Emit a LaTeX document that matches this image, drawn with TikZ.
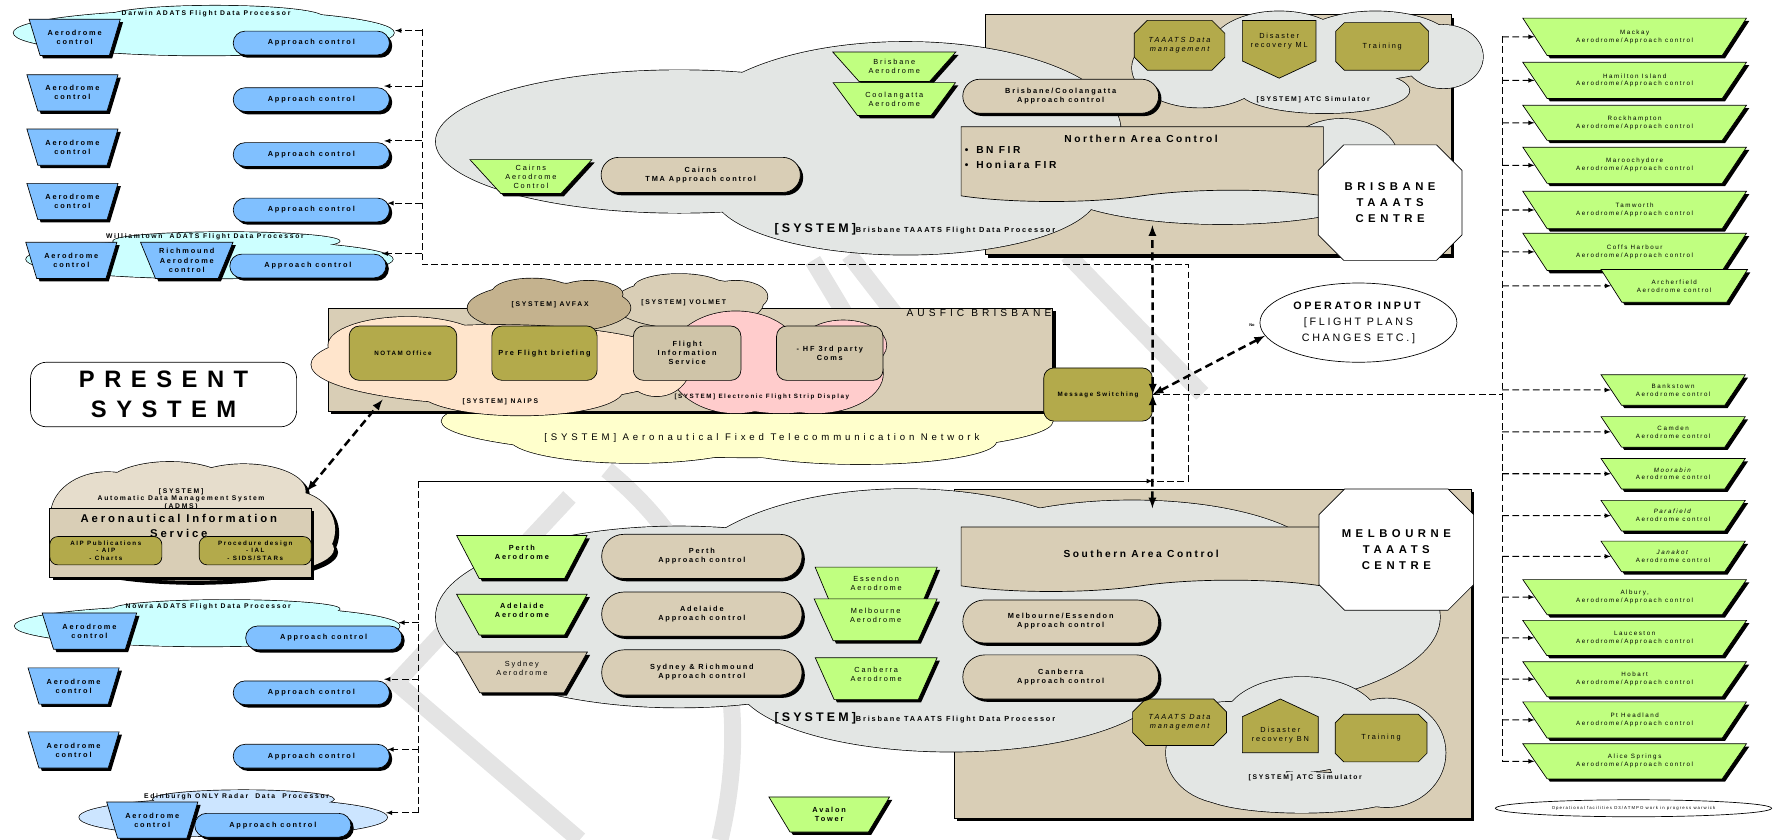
\documentclass[tikz,border=0pt]{standalone}
\usepackage{fontspec}
\setmainfont{Liberation Sans}
\newfontfamily\spc[LetterSpace=25]{Liberation Sans}
\newfontfamily\spcw[LetterSpace=40]{Liberation Sans}
\usetikzlibrary{shapes.geometric,shapes.misc,shapes.symbols,shadows}

\definecolor{adblue}{HTML}{80C0FF}
\definecolor{fdpcyan}{HTML}{CCFFFF}
\definecolor{radarblue}{HTML}{CCE5FF}
\definecolor{lime}{HTML}{C0FF80}
\definecolor{boxtan}{HTML}{D9CEB6}
\definecolor{dropolive}{HTML}{B3AA4B}
\definecolor{fisgrey}{HTML}{CFC4A8}
\definecolor{fdpgrey}{HTML}{E3E6E4}
\definecolor{avfax}{HTML}{C4B28E}
\definecolor{naips}{HTML}{FFE5CC}
\definecolor{efsd}{HTML}{FFCCCC}
\definecolor{aftn}{HTML}{FFFFCC}
\definecolor{adms}{HTML}{E6DDCC}
\definecolor{wmark}{HTML}{E4E4E4}

\newcommand\lbl{\spc\bfseries\fontsize{6.5}{8}\selectfont}
\newcommand\lblr{\spc\fontsize{6.5}{8}\selectfont}
\newcommand\ttl{\spc\bfseries\fontsize{6}{7}\selectfont}
\newcommand\sml{\spc\fontsize{5.5}{7}\selectfont}
\newcommand\hdr{\spc\bfseries\fontsize{9}{13}\selectfont}
\newcommand\ctr{\spcw\bfseries\fontsize{10}{14.5}\selectfont}

% cloud = union of ellipses, outline only on the outside
\newcommand\puff[2]{%
  \foreach \cx/\cy/\rx/\ry in {#2}
    \draw[line width=1.2pt,fill=#1] (\cx,\cy) ellipse [x radius=\rx, y radius=\ry];
  \foreach \cx/\cy/\rx/\ry in {#2}
    \fill[#1] (\cx,\cy) ellipse [x radius=\rx, y radius=\ry];
}

\begin{document}
\begin{tikzpicture}[x=1pt,y=-1pt,line width=0.6pt,
    every node/.style={inner sep=1pt, align=center},
    shad/.style={drop shadow={shadow xshift=2.5pt,shadow yshift=-2.5pt,fill=black,opacity=1}},
    aero/.style={draw, shad, trapezium, shape border rotate=180, trapezium stretches=true, trapezium angle=#1, font=\lbl},
    aero/.default=62,
    blueaero/.style={aero, fill=adblue, minimum width=81pt, minimum height=32pt},
    rgreen/.style={aero=44, fill=lime, font=\sml},
    appr/.style={draw, shad, rounded rectangle, font=\lbl},
    blueappr/.style={appr, fill=adblue, minimum width=140pt, minimum height=21pt},
    octo/.style={draw, chamfered rectangle, chamfered rectangle xsep=#1, font=\lblr},
    rbox/.style={draw, rounded corners=9pt, font=\lbl},
    bigbox/.style={draw, shad, fill=boxtan},
    bus/.style={line width=0.9pt, dash pattern=on 6pt off 3pt},
    conn/.style={bus, -latex},
    hubline/.style={line width=2.2pt, dash pattern=on 7pt off 4pt, latex-latex},
    wm/.style={line width=15pt, wmark}]

\useasboundingbox (0,0) rectangle (1568,742);

%%% watermark
\draw[wm] (503,439) -- (350,603) -- (512,742);
\draw[wm] (536,415) .. controls (640,500) and (665,620) .. (636,742);
\draw[wm] (718,230) -- (817,395);
\draw[wm] (750,225) -- (845,348);
\draw[wm] (943,225) -- (1062,348);

%%% left top: ADATS processors
\puff{fdpcyan}{180/29/168/20, 190/15/95/10} % Darwin
\puff{fdpcyan}{185/229/162/17, 200/213/100/8} % Williamtown
\node[font=\ttl] (darwinT) at (182,12) {Darwin ADATS Flight Data Processor};
\node[font=\ttl] (wlmT) at (181,209) {Williamtown\ \ ADATS Flight Data Processor};

\node[blueaero] (dAero) at (66,33) {Aerodrome\\control};
\node[blueaero] (aero2) at (64,82) {Aerodrome\\control};
\node[blueaero] (aero3) at (64,130) {Aerodrome\\control};
\node[blueaero] (aero4) at (64,178) {Aerodrome\\control};
\node[blueaero] (wAero) at (63,230) {Aerodrome\\control};
\node[blueaero, minimum width=82pt] (richAero) at (165,230) {Richmound\\Aerodrome\\control};
\node[blueappr] (dAppr) at (275,38) {Approach control};
\node[blueappr] (appr2) at (275,88) {Approach control};
\node[blueappr] (appr3) at (275,136.5) {Approach control};
\node[blueappr] (appr4) at (275,185.5) {Approach control};
\node[blueappr] (wAppr) at (272,235) {Approach control};

%%% left bottom
\puff{fdpcyan}{183/553/170/18, 200/538/100/8} % Nowra
\puff{radarblue}{206/722/136/17, 215/706/80/8} % Edinburgh
\node[font=\ttl] (nowraT) at (184,536) {Nowra ADATS Flight Data Processor};
\node[font=\ttl] (edinT) at (209,704) {Edinburgh ONLY Radar\ \ Data\ \ Processor};

\node[blueaero, minimum width=84pt] (nAero) at (79,557.5) {Aerodrome\\control};
\node[blueaero] (aero6) at (65,606) {Aerodrome\\control};
\node[blueaero] (aero7) at (65,662.5) {Aerodrome\\control};
\node[blueaero] (eAero) at (134.5,724.5) {Aerodrome\\control};
\node[blueappr] (nAppr) at (286,563.5) {Approach control};
\node[blueappr] (appr6) at (275,612) {Approach control};
\node[blueappr] (appr7) at (275,668) {Approach control};
\node[blueappr] (eAppr) at (241,729) {Approach control};

%%% present system / AIS
\node[draw, fill=white, rounded corners=14pt, minimum width=235pt, minimum height=57pt, font=\spcw\bfseries\fontsize{21}{26}\selectfont] (present) at (144.5,348.5) {PRESENT\\SYSTEM};

\begin{scope}[shift={(3,3)}]
  \puff{black}{95/455/50/38, 150/432/58/24, 215/434/55/24, 258/468/38/34, 170/485/125/28}
\end{scope}
\puff{adms}{95/455/50/38, 150/432/58/24, 215/434/55/24, 258/468/38/34, 170/485/125/28}
\node[font=\ttl, align=center] (admsT) at (160,441) {[SYSTEM]\\Automatic Data Management System\\(ADMS)};
\node[bigbox, minimum width=231pt, minimum height=61pt] (ais) at (159.5,479.5) {};
\node[font=\spc\bfseries\fontsize{10}{13}\selectfont] (aisT) at (158,464.5) {Aeronautical Information\\Service};
\node[rbox, fill=dropolive, rounded corners=7pt, minimum width=99pt, minimum height=25pt, font=\spc\bfseries\fontsize{5.5}{6.8}\selectfont] (aipPub) at (93.5,486.5) {AIP Publications\\- AIP\\- Charts};
\node[rbox, fill=dropolive, rounded corners=7pt, minimum width=99pt, minimum height=25pt, font=\spc\bfseries\fontsize{5.5}{6.8}\selectfont] (procDes) at (225.5,486.5) {Procedure design\\- IAL\\- SIDS/STARs};

%%% AUSFIC Brisbane
\puff{aftn}{660/372/270/32, 560/387/110/22, 760/390/120/20} % AFTN
\node[bigbox, minimum width=640pt, minimum height=91pt] (ausfic) at (610,317.5) {};
\puff{boxtan}{608/268/66/22, 600/254/40/12, 650/262/28/14} % volmet
\puff{avfax}{485/272/72/22, 470/258/35/12, 520/260/30/12} % avfax
\puff{efsd}{650/320/60/45, 720/330/60/35, 745/305/38/22, 690/342/60/23} % strip display
\puff{naips}{440/322/165/35, 360/305/70/25, 460/345/90/22, 580/322/30/28} % naips
\node[font=\spcw\fontsize{9}{11}\selectfont, anchor=north east] (ausficT) at (930,272) {AUSFIC BRISBANE};
\node[font=\ttl] (avfaxT) at (486,269) {[SYSTEM] AVFAX};
\node[font=\ttl] (volmetT) at (604,267) {[SYSTEM] VOLMET};
\node[font=\ttl] (naipsT) at (442,355) {[SYSTEM] NAIPS};
\node[font=\spc\bfseries\fontsize{5.5}{7}\selectfont] (efsdT) at (673,351) {[SYSTEM] Electronic Flight Strip Display};
\node[font=\spcw\fontsize{8.5}{10}\selectfont] (aftnT) at (673,387) {[SYSTEM] Aeronautical Fixed Telecommunication Network};

\node[rbox, fill=dropolive, minimum width=95pt, minimum height=48pt, font=\spc\bfseries\fontsize{5.5}{7}\selectfont] (notam) at (356,312) {NOTAM Office};
\node[rbox, fill=dropolive, minimum width=93pt, minimum height=48pt] (pfb) at (481,312) {Pre Flight briefing};
\node[rbox, fill=fisgrey, minimum width=95pt, minimum height=48pt] (fis) at (607,312) {Flight\\Information\\Service};
\node[rbox, fill=fisgrey, minimum width=94pt, minimum height=48pt] (hf) at (733,312) {- HF 3rd party\\Coms};
\node[rbox, fill=dropolive, minimum width=96pt, minimum height=47pt, font=\spc\bfseries\fontsize{5.5}{7}\selectfont] (ms) at (970,348.5) {Message Switching};

\node[draw, fill=white, ellipse, minimum width=174pt, minimum height=70pt, font=\spc\fontsize{9.5}{14}\selectfont] (opIn) at (1200,285) {\textbf{OPERATOR INPUT}\\{[}FLIGHT PLANS\\CHANGES ETC.{]}};
\node[font=\bfseries\fontsize{3.5}{4}\selectfont] (noT) at (1106,287) {No};

%%% Brisbane TAAATS centre
\node[bigbox, minimum width=412pt, minimum height=212pt] (bneBox) at (1076,119) {};
\puff{fdpgrey}{600/125/215/63, 800/115/190/78, 800/170/170/55, 1080/162/150/36, 1185/140/50/35}
\puff{fdpgrey}{1060/60/60/35, 1130/42/60/32, 1215/40/70/30, 1275/50/35/28, 1170/80/75/20} % ATC simulator
\node[font=\ttl] (atcN) at (1160,88) {[SYSTEM] ATC Simulator};
\node[octo=12pt, fill=dropolive, minimum width=80pt, minimum height=44pt, font=\lblr\itshape] (tdmN) at (1042,40) {TAAATS Data\\management};
\node[draw, signal, signal to=south, signal pointer angle=130, fill=dropolive, minimum width=65pt, minimum height=48pt, font=\lblr] (drML) at (1130,36) {Disaster\\recovery ML};
\node[octo=12pt, fill=dropolive, minimum width=82pt, minimum height=42pt] (trainN) at (1221,41) {Training};

\node[aero=40, fill=lime, minimum width=109pt, minimum height=26pt, font=\lblr] (bneAero) at (790,59) {Brisbane\\Aerodrome};
\node[aero=40, fill=lime, minimum width=109pt, minimum height=29pt, font=\lblr] (oolAero) at (790,87.5) {Coolangatta\\Aerodrome};
\node[appr, fill=boxtan, minimum width=175pt, minimum height=30pt] (bcApp) at (937,85) {Brisbane/Coolangatta\\Approach control};
\node[draw, tape, tape bend top=none, tape bend height=10pt, fill=boxtan, minimum width=320pt, minimum height=66pt] (nac) at (1009,140) {};
\node[font=\hdr] (nacT) at (1008,123) {Northern Area Control};
\node[font=\hdr, align=left, anchor=north west] (nacL) at (851,128) {\textbullet\hspace{7pt}BN FIR\\\textbullet\hspace{7pt}Honiara FIR};
\node[octo=28pt, fill=white, minimum width=127pt, minimum height=102pt, font=\ctr] (bneC) at (1228,179) {BRISBANE\\TAAATS\\CENTRE};

\node[aero=43, fill=lime, minimum width=108pt, minimum height=30pt, font=\lblr] (cnsAero) at (469,156) {Cairns\\Aerodrome\\Control};
\node[appr, fill=boxtan, minimum width=178pt, minimum height=31pt] (cnsApp) at (619,154.5) {Cairns\\TMA Approach control};
\node[anchor=base west, font=\lbl] (bneFDP) at (683,205) {{\fontsize{11}{12}\selectfont[SYSTEM]}Brisbane TAAATS Flight Data Processor};

%%% Melbourne TAAATS centre
\node[bigbox, minimum width=457pt, minimum height=291pt] (melBox) at (1071.5,577.5) {};
\puff{fdpgrey}{600/545/215/80, 800/520/200/88, 840/600/190/64, 1000/500/170/58, 1080/545/192/80}
\puff{fdpgrey}{1085/665/55/45, 1150/640/70/42, 1225/665/52/48, 1150/700/90/18} % ATC simulator
\node[font=\ttl] (atcS) at (1153,687) {[SYSTEM] ATC Simulator};
\node[octo=12pt, fill=dropolive, minimum width=83pt, minimum height=41pt, font=\lblr\itshape] (tdmS) at (1042,638) {TAAATS Data\\management};
\node[draw, signal, signal to=north, signal pointer angle=130, fill=dropolive, minimum width=67pt, minimum height=44pt, font=\lblr] (drBN) at (1131,649) {Disaster\\recovery BN};
\node[octo=12pt, fill=dropolive, minimum width=81pt, minimum height=42pt] (trainS) at (1220,652) {Training};

\node[draw, tape, tape bend top=none, tape bend height=10pt, fill=boxtan, minimum width=318pt, minimum height=57pt, font=\hdr] (sac) at (1008,489) {Southern Area Control};
\node[octo=23pt, fill=white, minimum width=127pt, minimum height=107pt, font=\ctr] (melC) at (1233.5,485.5) {MELBOURNE\\TAAATS\\CENTRE};
\node[appr, fill=boxtan, minimum width=175pt, minimum height=38pt] (melApp) at (937,549) {Melbourne/Essendon\\Approach control};
\node[appr, fill=boxtan, minimum width=175pt, minimum height=39pt] (cbrApp) at (937,598) {Canberra\\Approach control};

\node[aero=60, fill=lime, minimum width=116pt, minimum height=38pt] (perthAero) at (461,492) {Perth\\Aerodrome\\\mbox{}};
\node[aero=60, fill=lime, minimum width=116pt, minimum height=36pt] (adlAero) at (461,543) {Adelaide\\Aerodrome\\\mbox{}};
\node[aero=60, fill=boxtan, minimum width=116pt, minimum height=36pt, font=\lblr] (sydAero) at (461,594) {Sydney\\Aerodrome\\\mbox{}};
\node[appr, fill=boxtan, minimum width=179pt, minimum height=39pt] (perthApp) at (620,491.5) {Perth\\Approach control};
\node[appr, fill=boxtan, minimum width=179pt, minimum height=39pt] (adlApp) at (620,542.5) {Adelaide\\Approach control};
\node[appr, fill=boxtan, minimum width=179pt, minimum height=40pt] (sydApp) at (620,594) {Sydney \& Richmound\\Approach control};
\node[aero=65, fill=lime, minimum width=108pt, minimum height=29pt, font=\lblr] (essAero) at (774,515.5) {Essendon\\Aerodrome};
\node[aero=65, fill=lime, minimum width=109pt, minimum height=37pt, font=\lblr] (melAero) at (773.5,547.5) {Melbourne\\Aerodrome\\\mbox{}};
\node[aero=65, fill=lime, minimum width=108pt, minimum height=37pt, font=\lblr] (cbrAero) at (774,599.5) {Canberra\\Aerodrome\\\mbox{}};
\node[anchor=base west, font=\lbl] (melFDP) at (683,637) {{\fontsize{11}{12}\selectfont[SYSTEM]}Brisbane TAAATS Flight Data Processor};
\node[aero=60, fill=lime, minimum width=107pt, minimum height=31pt] (avalon) at (732.5,719.5) {Avalon\\Tower};

%%% right column
\node[rgreen, minimum width=198pt, minimum height=33pt] (mackay) at (1444,32.5) {Mackay\\Aerodrome/Approach control};
\node[rgreen, minimum width=198pt, minimum height=32pt] (hamilton) at (1444,71) {Hamilton Island\\Aerodrome/Approach control};
\node[rgreen, minimum width=198pt, minimum height=31pt] (rockhampton) at (1444,108.5) {Rockhampton\\Aerodrome/Approach control};
\node[rgreen, minimum width=198pt, minimum height=32pt] (maroochydore) at (1444,146) {Maroochydore\\Aerodrome/Approach control};
\node[rgreen, minimum width=198pt, minimum height=33pt] (tamworth) at (1444,185.5) {Tamworth\\Aerodrome/Approach control};
\node[rgreen, minimum width=198pt, minimum height=33pt] (coffs) at (1444,222.5) {Coffs Harbour\\Aerodrome/Approach control};
\node[rgreen, minimum width=130pt, minimum height=29pt] (archerfield) at (1479,252.5) {Archerfield\\Aerodrome control};
\node[rgreen, minimum width=128pt, minimum height=27pt] (bankstown) at (1478,344.5) {Bankstown\\Aerodrome control};
\node[rgreen, minimum width=128pt, minimum height=27pt] (camden) at (1478,381.5) {Camden\\Aerodrome control};
\node[rgreen, minimum width=128pt, minimum height=27pt] (moorabin) at (1478,418.5) {\textit{Moorabin}\\Aerodrome control};
\node[rgreen, minimum width=128pt, minimum height=27pt] (parafield) at (1478,455.5) {\textit{Parafield}\\Aerodrome control};
\node[rgreen, minimum width=128pt, minimum height=27pt] (janakot) at (1478,491.5) {\textit{Janakot}\\Aerodrome control};
\node[rgreen, minimum width=198pt, minimum height=31pt] (albury) at (1444,527.5) {Albury,\\Aerodrome/Approach control};
\node[rgreen, minimum width=198pt, minimum height=31pt] (lauceston) at (1444,563.5) {Lauceston\\Aerodrome/Approach control};
\node[rgreen, minimum width=198pt, minimum height=31pt] (hobart) at (1444,600) {Hobart\\Aerodrome/Approach control};
\node[rgreen, minimum width=198pt, minimum height=32pt] (ptheadland) at (1444,636) {Pt Headland\\Aerodrome/Approach control};
\node[rgreen, minimum width=198pt, minimum height=31pt] (alice) at (1444,672.5) {Alice Springs\\Aerodrome/Approach control};
\node[draw, ellipse, minimum width=244pt, minimum height=15pt, font=\spc\fontsize{3.8}{4.5}\selectfont] (ops) at (1443,714) {Operational facilities D3/ATMPO work in progress warwick};

%%% connectors
\coordinate (hub) at (ms.east);
\coordinate (lbus) at (373,26);
\coordinate (lcorner) at (373,234);
\coordinate (tcorner) at (1050,234);
\coordinate (scorner) at (1050,425);
\draw[bus] (lbus) -- (lcorner) -- (tcorner) -- (scorner) -- (hub |- scorner);

\coordinate (darwin) at (349,27);
\coordinate (a2) at ([xshift=-5pt,yshift=12pt]appr2.east);
\coordinate (a3) at ([xshift=-5pt,yshift=12pt]appr3.east);
\coordinate (a4) at ([xshift=-2pt,yshift=6pt]appr4.east);
\coordinate (a5) at ([xshift=-4pt,yshift=11pt]wAppr.east);
\foreach \t in {darwin,a2,a3,a4,a5}
  \draw[conn] (lbus |- \t) -- (\t);

\coordinate (lbus2) at (370,425);
\coordinate (lbus2b) at (370,718);
\coordinate (nowra) at (352,550);
\coordinate (a6) at ([xshift=-5pt,yshift=12pt]appr6.east);
\coordinate (a7) at ([xshift=-2pt,yshift=6pt]appr7.east);
\coordinate (edin) at (341,718);
\draw[bus] (lbus2) -- (lbus2b);
\foreach \t in {nowra,a6,a7,edin}
  \draw[conn] (lbus2 |- \t) -- (\t);
\draw[line width=0.9pt,-latex] (lbus2) -- (hub |- lbus2);

\coordinate (rbus) at (1327,32);
\coordinate (rbusb) at (1327,673);
\draw[bus] (rbus) -- (rbusb);
\draw[bus] (hub) -- (rbus |- hub);
\foreach \t in {mackay,hamilton,rockhampton,maroochydore,tamworth,coffs,archerfield,bankstown,camden,moorabin,parafield,janakot,albury,lauceston,hobart,ptheadland,alice}
  \draw[conn] (rbus |- \t) -- (\t);

\coordinate (bneBot) at (1018,199);
\coordinate (melTop) at (1018,449);
\draw[hubline] (hub) -- (bneBot);
\draw[hubline] (hub) -- (melTop);
\draw[hubline] (hub) -- (opIn.188);
\coordinate (admsTip) at (271,434);
\coordinate (naipsTip) at (338,353);
\draw[hubline] (admsTip) -- (naipsTip);
\end{tikzpicture}
\end{document}
